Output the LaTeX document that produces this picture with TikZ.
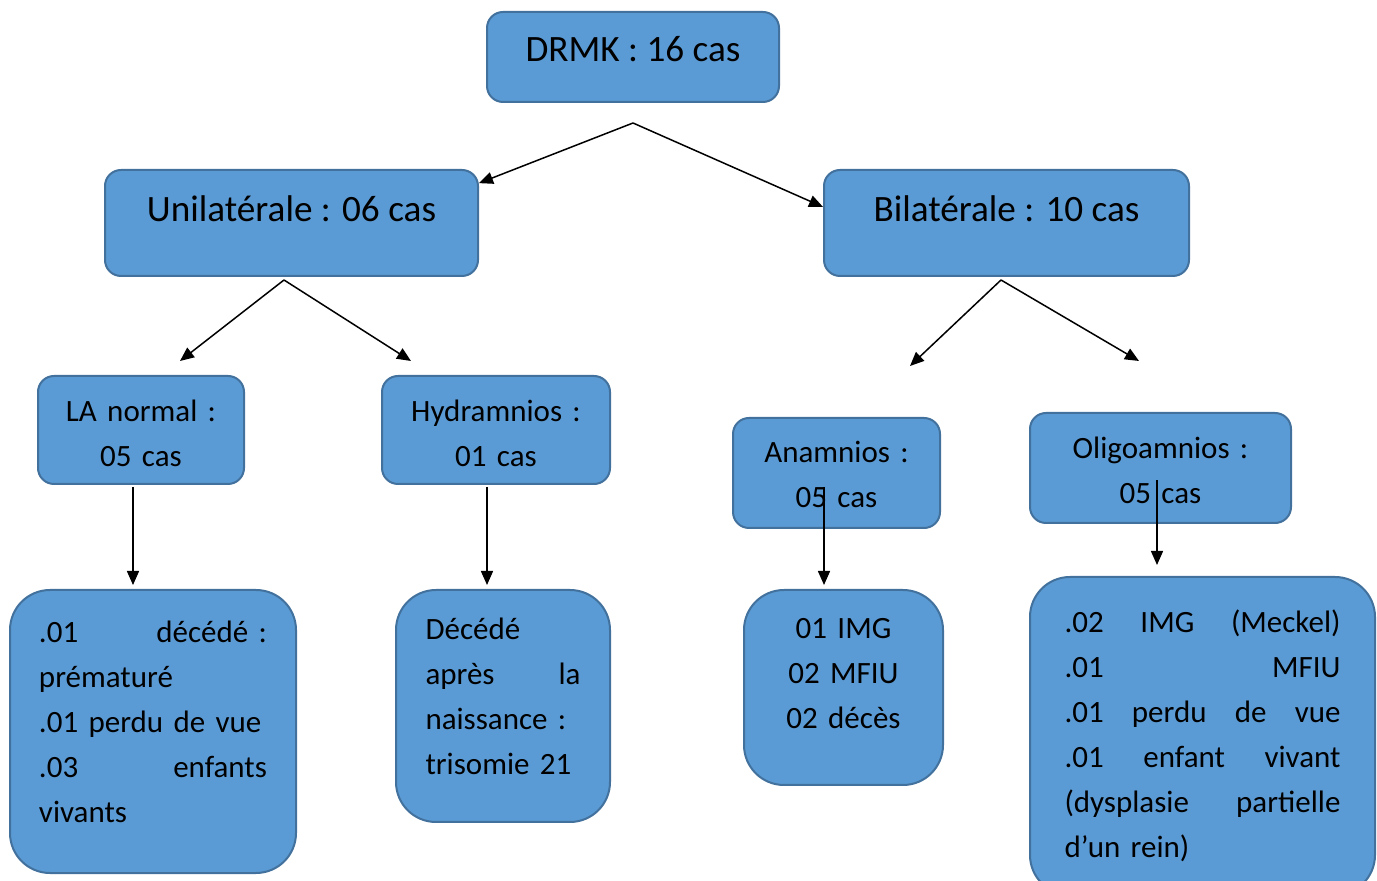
\documentclass[tikz,border=0pt]{standalone}
\usepackage{fontspec}
\setmainfont{Carlito}
\usetikzlibrary{arrows.meta}

\definecolor{boxfill}{RGB}{91,155,213}
\definecolor{boxline}{RGB}{65,113,156}

\tikzset{
  box/.style={draw=boxline, fill=boxfill, line width=1pt, rounded corners=8pt, inner sep=0pt, text=black},
  bigbox/.style={box, rounded corners=20pt},
  big/.style={font=\fontsize{18.6}{22}\selectfont},
  small/.style={font=\fontsize{15.5}{22.5}\selectfont},
  drop/.style={text height=12pt, text depth=#1},
  link/.style={line width=0.75pt, -{Triangle[length=7pt,width=6pt]}},
}

\begin{document}
\begin{tikzpicture}[x=0.5pt, y=-0.5pt]
\path[use as bounding box, fill=white] (0,0) rectangle (1377,881);

% top levels
\node[box, big, minimum width=146pt, minimum height=45pt, drop=7pt] (drmk) at (633,57) {DRMK : 16 cas};
\node[box, big, minimum width=186.5pt, minimum height=53pt, drop=13pt] (uni) at (291.5,223) {Unilatérale : 06 cas};
\node[box, big, minimum width=182.5pt, minimum height=53pt, drop=13pt] (bil) at (1006.5,223) {Bilatérale : 10 cas};

% liquide amniotique
\node[box, small, align=center, text width=95pt, minimum width=103pt, minimum height=54pt, drop=20pt] (la) at (141,430) {LA normal :\\ 05 cas};
\node[box, small, align=center, text width=105pt, minimum width=114pt, minimum height=54pt, drop=20pt] (hyd) at (496,430) {Hydramnios :\\ 01 cas};
\node[box, small, align=center, text width=95pt, minimum width=103.5pt, minimum height=55pt, drop=22pt] (ana) at (836.5,473) {Anamnios :\\ 05 cas};
\node[box, small, align=center, text width=120pt, minimum width=130.5pt, minimum height=55pt, drop=21pt] (oli) at (1160.5,468) {Oligoamnios :\\ 05 cas};

% issues
\node[bigbox, small, align=left, text width=114pt, minimum width=143pt, minimum height=141.5pt, drop=100.5pt] (issueLA) at (153,731.5)
  {.01\hfill décédé :\\ prématuré\\ .01 perdu de vue\\ .03\hfill enfants\\ vivants};
\node[bigbox, small, align=left, text width=77.5pt, minimum width=107pt, minimum height=116pt, drop=78pt] (issueHyd) at (503,706)
  {Décédé\\ après\hfill la\\ naissance :\\ trisomie 21};
\node[bigbox, small, align=center, text width=80pt, minimum width=99.5pt, minimum height=97.5pt, drop=60.5pt] (issueAna) at (843.5,687.5)
  {01 IMG\\ 02 MFIU\\ 02 décès};
\node[bigbox, small, align=left, text width=138pt, minimum width=172.5pt, minimum height=159pt, drop=115pt] (issueOli) at (1202.5,736)
  {.02\hfill IMG\hfill (Meckel)\\ .01\hfill MFIU\\ .01\hfill perdu\hfill de\hfill vue\\ .01\hfill enfant\hfill vivant\\ (dysplasie\hfill partielle\\ d’un rein)};

% free ends of the arrows
\coordinate (topSplit) at (633,123);
\coordinate (uniSplit) at (284,280);
\coordinate (bilSplit) at (1001,280);
\coordinate (laIn) at (180,361);
\coordinate (hydIn) at (411,361);
\coordinate (anaIn) at (910,366);
\coordinate (oliIn) at (1139,361);
\coordinate (laOut) at (133,487);
\coordinate (laEnd) at (133,585);
\coordinate (hydOut) at (487,487);
\coordinate (hydEnd) at (487,585);
\coordinate (anaOut) at (824,487);
\coordinate (anaEnd) at (824,585);
\coordinate (oliOut) at (1157,480);
\coordinate (oliEnd) at (1157,565);

\draw[link] (topSplit) -- (uni.12);
\draw[link] (topSplit) -- (bil.175);
\draw[link] (uniSplit) -- (laIn);
\draw[link] (uniSplit) -- (hydIn);
\draw[link] (bilSplit) -- (anaIn);
\draw[link] (bilSplit) -- (oliIn);
\draw[link] (laOut) -- (laEnd);
\draw[link] (hydOut) -- (hydEnd);
\draw[link] (anaOut) -- (anaEnd);
\draw[link] (oliOut) -- (oliEnd);
\end{tikzpicture}
\end{document}
